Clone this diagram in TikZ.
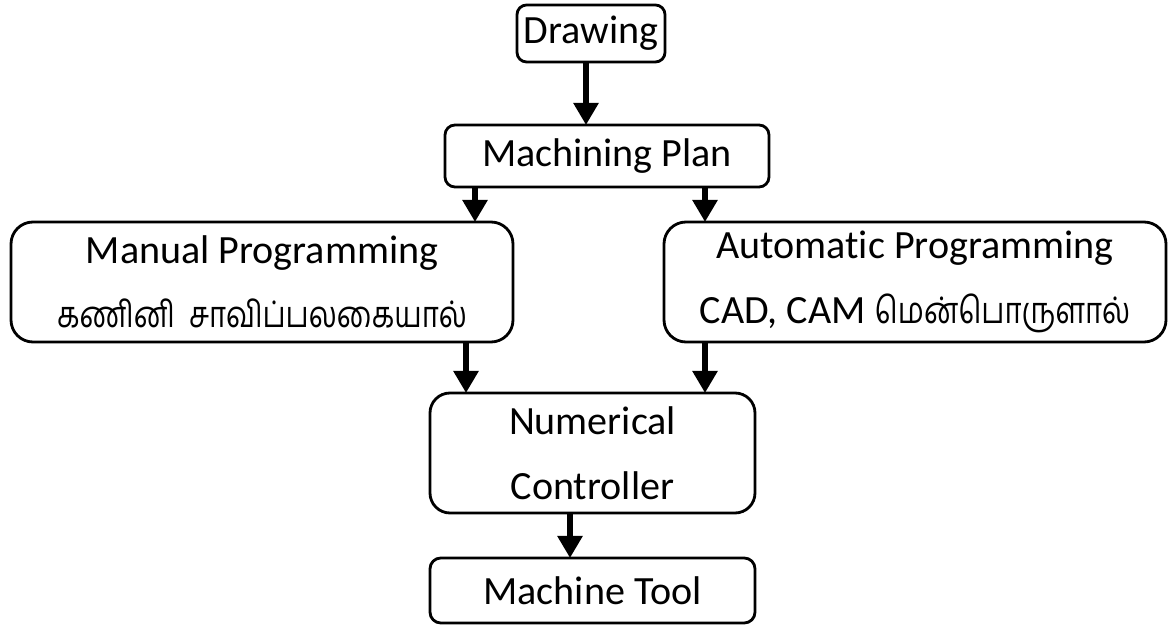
\documentclass[tikz,border=0pt]{standalone}
\usepackage{fontspec}
\setmainfont[Ligatures=NoCommon]{Carlito}
\newfontfamily\tamilfont[Script=Tamil,FakeStretch=0.8]{Hind Madurai}
\usepackage{tikz}
\usetikzlibrary{arrows.meta}

\tikzset{
  box/.style={draw,line width=2pt,rounded corners=#1,align=center,inner sep=0pt,outer sep=0pt,font=\fontsize{28.5}{46}\selectfont},
  box/.default=0.25cm,
  arr/.style={line width=4pt,-{Triangle[width=0.6cm,length=0.55cm]}}
}
\newcommand{\tam}[1]{{\tamilfont\fontsize{26}{46}\selectfont #1}}

\begin{document}
\begin{tikzpicture}
\useasboundingbox (0,0) rectangle (29.25,15.65);

\node[box=0.24cm,minimum width=3.7cm,minimum height=1.425cm] (drawing) at (14.775,14.8125) {Drawing};
\node[box=0.25cm,minimum width=8.1cm,minimum height=1.55cm] (plan) at (15.175,11.75) {Machining Plan};
\node[box=0.55cm,minimum width=12.55cm,minimum height=3cm] (manual) at (6.55,8.6) {Manual Programming\\\tam{கணினி~~சாவிப்பலகையால்}};
\node[box=0.55cm,minimum width=12.55cm,minimum height=3cm] (auto) at (22.875,8.6) {Automatic Programming\\CAD, CAM \tam{மென்பொருளால்}};
\node[box=0.5cm,minimum width=8.125cm,minimum height=3cm] (nc) at (14.8125,4.325) {Numerical\\Controller};
\node[box=0.27cm,minimum width=8.125cm,minimum height=1.625cm] (tool) at (14.8125,0.8875) {Machine Tool};

% arrow positions
\coordinate (a1) at (14.65,0);
\coordinate (a2) at (11.875,0);
\coordinate (a3) at (17.625,0);
\coordinate (a4) at (11.65,0);
\coordinate (a5) at (14.25,0);

\draw[arr] (drawing.south -| a1) -- (plan.north -| a1);
\draw[arr] (plan.south -| a2) -- (manual.north -| a2);
\draw[arr] (plan.south -| a3) -- (auto.north -| a3);
\draw[arr] (manual.south -| a4) -- (nc.north -| a4);
\draw[arr] (auto.south -| a3) -- (nc.north -| a3);
\draw[arr] (nc.south -| a5) -- (tool.north -| a5);

\end{tikzpicture}
\end{document}
